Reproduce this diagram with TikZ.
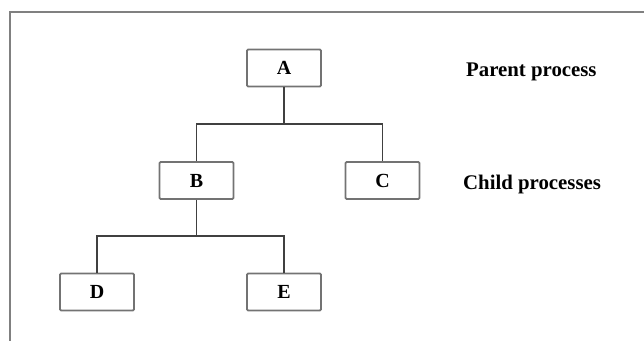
\documentclass[tikz,border=0pt]{standalone}
\usepackage{fontspec}
\setmainfont{Liberation Serif}
\begin{document}
\begin{tikzpicture}[x=1pt,y=-1pt,
  procbox/.style={draw=black!55, line width=1.8pt, rounded corners=1.2pt, minimum width=74pt, minimum height=37pt, inner sep=0pt, font=\fontsize{20}{22}\selectfont\bfseries},
  conn/.style={draw=black!75, line width=1.4pt},
  lbl/.style={anchor=west, inner sep=0pt, font=\fontsize{20.8}{23}\selectfont\bfseries}]
\useasboundingbox (0,0) rectangle (644,341);
\draw[draw=black!50, line width=2pt] (644,12) -- (10,12) -- (10,341);
\node[procbox] (A) at (284,68) {A};
\node[procbox] (B) at (196.5,180.5) {B};
\node[procbox] (C) at (382.5,180.5) {C};
\node[procbox] (D) at (97,292) {D};
\node[procbox] (E) at (284,292) {E};
\node[lbl] (p) at (466,72) {Parent process};
\node[lbl] (c) at (463,184) {Child processes};
\coordinate (ab) at (284,124);
\coordinate (bd) at (196.5,236);
\draw[conn] (A.south) -- (ab) -| (B.north);
\draw[conn] (ab) -| (C.north);
\draw[conn] (B.south) -- (bd) -| (D.north);
\draw[conn] (bd) -| (E.north);
\end{tikzpicture}
\end{document}
